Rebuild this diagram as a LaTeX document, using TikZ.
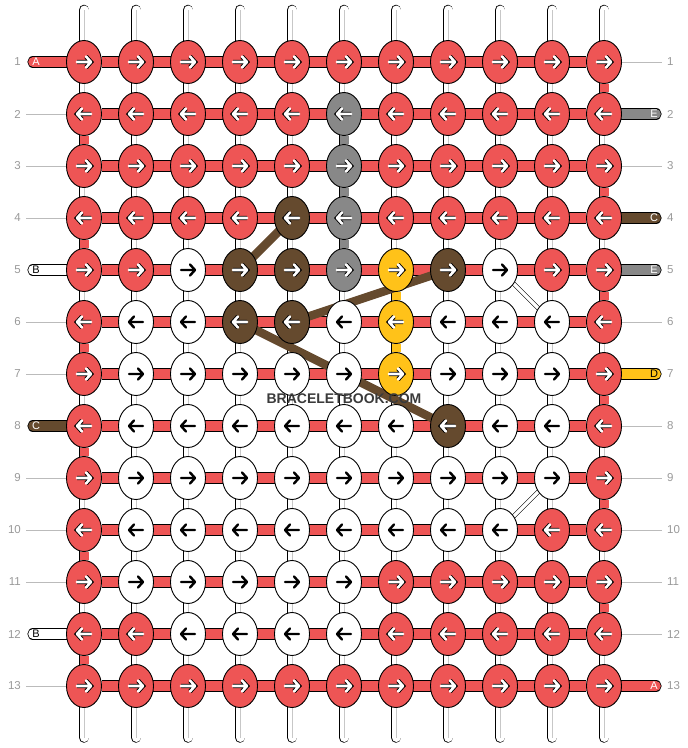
\documentclass[tikz,border=0pt]{standalone}
\usepackage{fontspec}
\setmainfont{Liberation Sans}
\usepackage{xcolor}
\usepackage{tikz}
\usetikzlibrary{shapes.geometric,backgrounds}
\definecolor{kR}{HTML}{EE5555}
\definecolor{kW}{HTML}{FFFFFF}
\definecolor{kN}{HTML}{654A2E}
\definecolor{kG}{HTML}{888888}
\definecolor{kY}{HTML}{FFC219}
\definecolor{kNum}{HTML}{999999}
\definecolor{kLead}{HTML}{BBBBBB}
\definecolor{kMark}{HTML}{3A3A3A}
\def\colx#1{84+52*(#1-1)}
\def\rowy#1{62+52*(#1-1)}
\def\KnotArrow#1#2#3{
    \draw[arr #3, shift={(#1.center)}, xscale=#2]
         (-7,0) -- (7,0) (2,-5.5) -- (7,0) -- (2,5.5);
}
\tikzset{
  knot/.style={ellipse, draw=black, line width=0.9pt, fill=#1,
    minimum width=35pt, minimum height=43pt, inner sep=0pt},
  warp/.style={draw=black, line width=0.8pt, double=white,
    double distance=9pt, line cap=round},
  warpcore/.style={draw=black!22, line width=0.7pt},
  vseg/.style={draw=black, line width=0.8pt, double=#1, double distance=9pt},
  weft/.style={draw=black, line width=0.8pt, double=kR, double distance=9.6pt},
  tab/.style={draw=black, line width=0.8pt, double=#1,
    double distance=9.6pt, line cap=round},
  leader/.style={draw=kLead, line width=0.9pt},
  rownum/.style={text=kNum, font=\fontsize{11.5}{12}\selectfont, inner sep=0pt},
  tabtext/.style={text=#1, font=\fontsize{11}{11}\selectfont, inner sep=0pt},
  band/.style={draw=kN, line width=8.5pt},
  strand/.style={draw=black, line width=0.6pt, double=white, double distance=3.2pt},
  arrbase/.style={line cap=round, line join=round},
  arr R/.style={arrbase, draw=white, line width=2.6pt,
    preaction={draw=black, line width=4.4pt}},
  arr N/.style={arr R}, arr G/.style={arr R}, arr Y/.style={arr R},
  arr W/.style={arrbase, draw=black, line width=2.4pt},
}
\begin{document}
\begin{tikzpicture}[x=1pt, y=-1pt]
  \useasboundingbox (0,0) rectangle (688,748);

  % knots, row by row
  \foreach \row [count=\r] in {
    {R,R,R,R,R,R,R,R,R,R,R},
    {R,R,R,R,R,G,R,R,R,R,R},
    {R,R,R,R,R,G,R,R,R,R,R},
    {R,R,R,R,N,G,R,R,R,R,R},
    {R,R,W,N,N,G,Y,N,W,R,R},
    {R,W,W,N,N,W,Y,W,W,W,R},
    {R,W,W,W,W,W,Y,W,W,W,R},
    {R,W,W,W,W,W,W,N,W,W,R},
    {R,W,W,W,W,W,W,W,W,W,R},
    {R,W,W,W,W,W,W,W,W,R,R},
    {R,W,W,W,W,W,R,R,R,R,R},
    {R,R,W,W,W,W,R,R,R,R,R},
    {R,R,R,R,R,R,R,R,R,R,R}}{
    \pgfmathsetmacro\dir{ifthenelse(isodd(\r),1,-1)}
    \foreach \k [count=\c] in \row {
      \node[knot=k\k] (k-\r-\c) at ({\colx{\c}},{\rowy{\r}}) {};
      \KnotArrow{k-\r-\c}{\dir}{\k}
    }
  }

  \begin{scope}[on background layer]
    % warp strings
    \foreach \c in {1,...,11}{
      \coordinate (top-\c) at ({\colx{\c}},10);
      \coordinate (bot-\c) at ({\colx{\c}},737.5);
      \draw[warp] (top-\c) -- (bot-\c);
      \draw[warpcore] (top-\c) -- (bot-\c);
    }
    % coloured links between rows
    \foreach \r in {2,4,...,12}{
      \pgfmathtruncatemacro\s{\r+1}
      \draw[vseg=kR] (k-\r-1) -- (k-\s-1);
    }
    \foreach \r in {1,3,...,11}{
      \pgfmathtruncatemacro\s{\r+1}
      \draw[vseg=kR] (k-\r-11) -- (k-\s-11);
    }
    \draw[vseg=kG] (k-2-6) -- (k-3-6);
    \draw[vseg=kG] (k-3-6) -- (k-4-6);
    \draw[vseg=kG] (k-4-6) -- (k-5-6);
    \draw[vseg=kY] (k-5-7) -- (k-6-7);
    \draw[vseg=kY] (k-6-7) -- (k-7-7);
    % rows
    \foreach \r in {1,...,13}
      \draw[weft] (k-\r-1) -- (k-\r-11);
    % carried strings
    \draw[band] (k-4-5.center) -- (k-5-4.center);
    \draw[band] (k-5-8.center) -- (k-6-5.center);
    \draw[band] (k-6-4.center) -- (k-8-8.center);
    \draw[strand] (k-5-9.center) -- (k-6-10.center);
    \draw[strand] (k-9-10.center) -- (k-10-9.center);

    % left ends
    \foreach \r/\col/\lt/\tc in {1/kR/A/white, 5/kW/B/black, 8/kN/C/white, 12/kW/B/black}{
      \coordinate (lt-\r) at (33,{\rowy{\r}});
      \draw[tab=\col] (lt-\r) -- (k-\r-1.center);
      \node[tabtext=\tc] (ltl-\r) at (36,{\rowy{\r}}) {\lt};
    }
    \foreach \r in {2,3,4,6,7,9,10,11,13}{
      \coordinate (ll-\r) at (26,{\rowy{\r}});
      \draw[leader] (ll-\r) -- (k-\r-1);
    }
    % right ends
    \foreach \r/\col/\lt/\tc in {2/kG/E/white, 4/kN/C/white, 5/kG/E/white, 7/kY/D/black, 13/kR/A/white}{
      \coordinate (rt-\r) at (656,{\rowy{\r}});
      \draw[tab=\col] (k-\r-11.center) -- (rt-\r);
      \node[tabtext=\tc] (rtl-\r) at (654,{\rowy{\r}}) {\lt};
    }
    \foreach \r in {1,3,6,8,9,10,11,12}{
      \coordinate (rl-\r) at (662,{\rowy{\r}});
      \draw[leader] (k-\r-11) -- (rl-\r);
    }
  \end{scope}

  % row numbers
  \foreach \r in {1,...,13}{
    \node[rownum, anchor=east] (nl-\r) at (21,{\rowy{\r}}) {\r};
    \node[rownum, anchor=west] (nr-\r) at (667,{\rowy{\r}}) {\r};
  }

  \node[font=\bfseries\fontsize{14}{14}\selectfont, text=kMark] (wm) at (344,399) {BRACELETBOOK.COM};

\end{tikzpicture}
\end{document}
